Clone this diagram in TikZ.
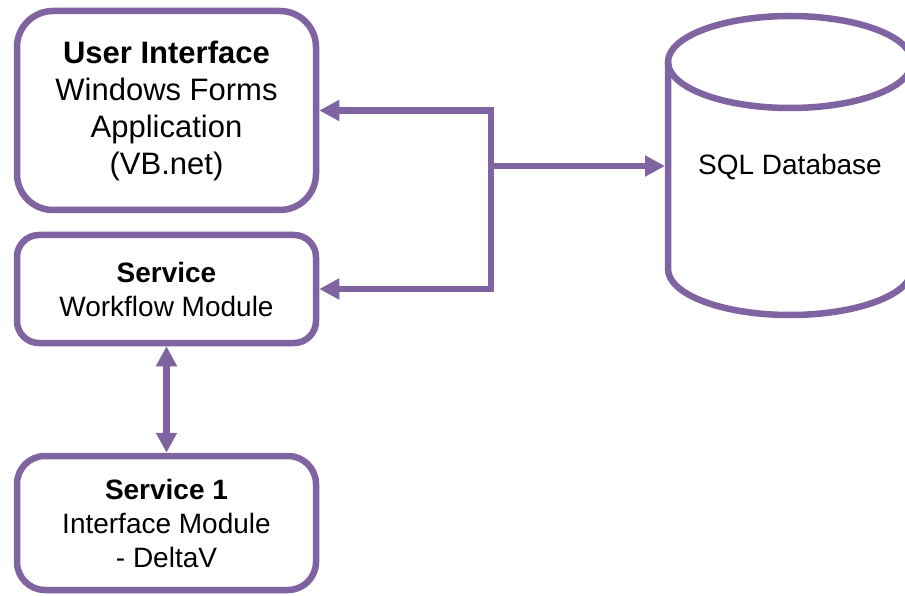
\documentclass[tikz,border=0pt]{standalone}
\usepackage{fontspec}
\setmainfont{Liberation Sans}
\usetikzlibrary{arrows.meta}
\definecolor{dbpurple}{RGB}{128,100,162}

\begin{document}
\begin{tikzpicture}[x=1pt, y=-1pt,
    box/.style={draw=dbpurple, line width=6.5pt, align=center, inner sep=0pt,
                minimum width=299pt},
    link/.style={draw=dbpurple, line width=6.5pt, -{Triangle[length=20pt, width=20pt]}}]

  \useasboundingbox (0,0) rectangle (905,596);

  % modules
  \node[box, rounded corners=36pt, minimum height=199pt,
        font=\fontsize{31}{37}\selectfont] (ui) at (166.5,110.5)
        {\textbf{User Interface}\\Windows Forms\\Application\\(VB.net)};
  \node[box, rounded corners=22pt, minimum height=108pt,
        font=\fontsize{28}{34}\selectfont] (svc) at (166.5,289)
        {\textbf{Service}\\Workflow Module};
  \node[box, rounded corners=28pt, minimum height=134pt,
        font=\fontsize{28}{34}\selectfont] (svcone) at (166.5,523)
        {\textbf{Service 1}\\Interface Module\\- DeltaV};

  % database
  \draw[dbpurple, line width=6.5pt] (790,62) ellipse [x radius=122, y radius=46];
  \draw[dbpurple, line width=6.5pt] (668,62) -- (668,269)
    arc[start angle=180, end angle=0, x radius=122, y radius=46] -- (912,62);
  \node[font=\fontsize{28}{34}\selectfont] (db) at (790,167) {SQL Database};
  \coordinate (dbside) at (665,166);

  % connectors
  \coordinate (bus) at (491,166);
  \draw[link] (bus) -- (dbside);
  \draw[link] (bus) |- (ui.east);
  \draw[link] (bus) |- (svc.east);
  \draw[link, {Triangle[length=20pt, width=20pt]}-{Triangle[length=20pt, width=20pt]}]
    (svc.south) -- (svcone.north);
\end{tikzpicture}
\end{document}
